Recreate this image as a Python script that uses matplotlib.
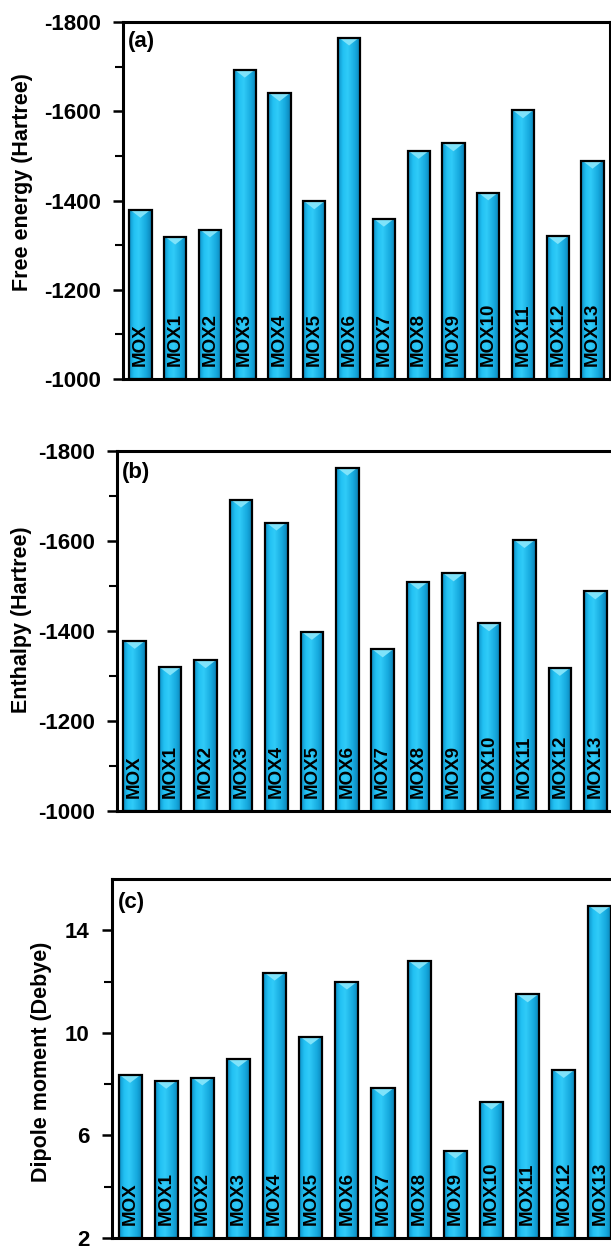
import numpy as np
import matplotlib
matplotlib.use("Agg")
import matplotlib.pyplot as plt
from matplotlib.colors import LinearSegmentedColormap

plt.rcParams['font.family'] = ['Liberation Sans', 'DejaVu Sans']
plt.rcParams['font.weight'] = 'bold'
plt.rcParams['axes.unicode_minus'] = False

# data
names = ['MOX', 'MOX1', 'MOX2', 'MOX3', 'MOX4', 'MOX5', 'MOX6',
         'MOX7', 'MOX8', 'MOX9', 'MOX10', 'MOX11', 'MOX12', 'MOX13']
free_energy = [-1379, -1319, -1335, -1693, -1640, -1398, -1765,
               -1359, -1511, -1528, -1418, -1602, -1320, -1489]
enthalpy = [-1378, -1319, -1335, -1692, -1641, -1398, -1763,
            -1359, -1510, -1528, -1417, -1602, -1318, -1488]
dipole = [8.36, 8.13, 8.26, 8.98, 12.35, 9.85, 12.0,
          7.84, 12.8, 5.41, 7.32, 11.5, 8.55, 14.94]

energy_major = [-1800, -1600, -1400, -1200, -1000]
energy_minor = [-1700, -1500, -1300, -1100]
dipole_major = [2, 6, 10, 14]
dipole_minor = [4, 8, 12]

cyl = LinearSegmentedColormap.from_list(
    'cyl', [(0, '#0d8fc6'), (0.22, '#22c1f3'), (0.42, '#30cbf8'),
            (0.75, '#16a9de'), (1, '#0a7fb3')])
grad = np.linspace(0, 1, 256).reshape(1, -1)

fig = plt.figure(figsize=(6.11, 12.46), dpi=100)


def panel(rect, vals, base, top, major, minor, ylabel, letter, lab_xy, let_xy):
    ax = fig.add_axes(rect)
    x = np.arange(len(vals))
    w = 0.64
    h = np.array(vals) - base
    bars = ax.bar(x, h, bottom=base, width=w, color='#1ab8e8', zorder=2)
    span = abs(top - base)
    tri = span * 0.022
    for xi, v, b in zip(x, vals, bars):
        im = ax.imshow(grad, extent=(xi - w / 2, xi + w / 2, base, v),
                       aspect='auto', cmap=cyl, zorder=2.1)
        im.set_clip_path(b)
        s = 1 if base > v else -1
        ax.fill([xi - w / 2 * 0.9, xi + w / 2 * 0.9, xi],
                [v, v, v + s * tri], color='#7fe3fa', lw=0, zorder=2.2)
    ax.bar(x, h, bottom=base, width=w, fill=False, edgecolor='black',
           linewidth=1.6, zorder=3)
    for xi, n in zip(x, names):
        ax.annotate(n, (xi, base), xytext=(0, 13), textcoords='offset pixels',
                    rotation=90, ha='center', va='bottom', fontsize=13.5,
                    fontweight='bold', zorder=4)
    ax.set_xlim(-0.5, len(vals) - 0.5)
    ax.set_ylim(base, top)
    ax.set_xticks([])
    ax.set_yticks(major)
    ax.set_yticks(minor, minor=True)
    ax.tick_params(axis='y', which='major', length=7, width=1.8,
                   labelsize=16, pad=9)
    ax.tick_params(axis='y', which='minor', length=6, width=1.5)
    for sp in ax.spines.values():
        sp.set_linewidth(2.2)
    ax.set_ylabel(ylabel, fontsize=15.5, fontweight='bold')
    ax.yaxis.set_label_coords(*lab_xy)
    ax.text(let_xy[0], let_xy[1], letter, transform=ax.transAxes,
            fontsize=16, fontweight='bold', va='top', ha='left')
    return ax


panel([0.2013, 0.6958, 0.797, 0.2865], free_energy, -1000, -1800,
      energy_major, energy_minor,
      'Free energy (Hartree)', '(a)', (-0.185, 0.553), (0.01, 0.975))
panel([0.1915, 0.3491, 0.8118, 0.2889], enthalpy, -1000, -1800,
      energy_major, energy_minor,
      'Enthalpy (Hartree)', '(b)', (-0.171, 0.532), (0.009, 0.97))
panel([0.1833, 0.0064, 0.8281, 0.2881], dipole, 2, 16,
      dipole_major, dipole_minor,
      'Dipole moment (Debye)', '(c)', (-0.119, 0.49), (0.012, 0.965))

fig.savefig('out.png', dpi=100)
